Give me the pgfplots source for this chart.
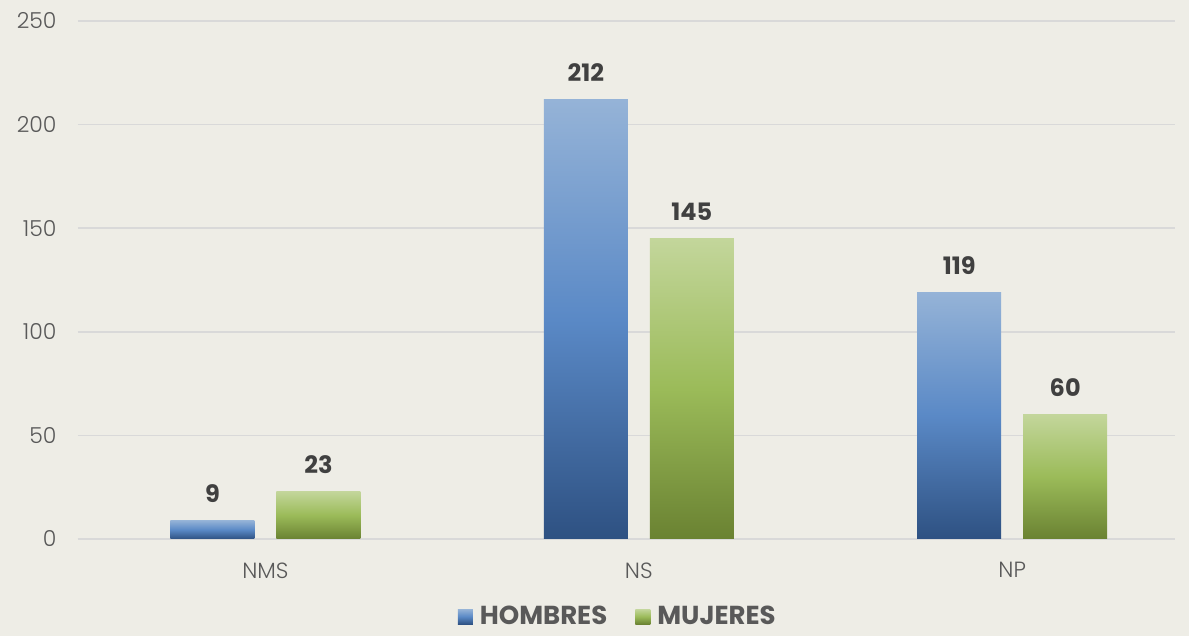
\documentclass[border=0pt]{standalone}
\usepackage{fontspec}
\setmainfont{Poppins}
\newfontfamily\lightfont{Poppins}[UprightFont=* Light]
\usepackage{pgfplots}
\pgfplotsset{compat=1.18}
\definecolor{bgc}{HTML}{EEEDE6}
\definecolor{gridc}{HTML}{D9D9D9}
\definecolor{tickc}{HTML}{595959}
\definecolor{labc}{HTML}{404040}
\definecolor{btop}{HTML}{95B3D7}
\definecolor{bmid}{HTML}{5A89C6}
\definecolor{bbot}{HTML}{2E5182}
\definecolor{gtop}{HTML}{C3D69B}
\definecolor{gmid}{HTML}{9BBB59}
\definecolor{gbot}{HTML}{6A8232}
\begin{document}
\begin{tikzpicture}
\fill[bgc] (-78pt,-97pt) rectangle (1111pt,539pt);
\begin{axis}[
  scale only axis,
  width=1097pt, height=518pt,
  xmin=-0.502, xmax=2.436,
  ymin=0, ymax=250,
  ytick={0,50,...,250},
  xtick={0,1,2},
  xticklabels={NMS,NS,NP},
  ymajorgrids,
  grid style={gridc, line width=1.5pt},
  axis line style={draw=none},
  axis x line*=bottom,
  x axis line style={draw=gridc, line width=1.5pt},
  major tick length=0pt,
  tick label style={font=\lightfont\fontsize{22}{26}\selectfont, text=tickc},
  /pgf/number format/assume math mode=true,
  yticklabel style={anchor=east, xshift=-18pt},
  xticklabel style={yshift=-20pt},
  ybar,
  bar width=84pt,
  nodes near coords,
  every node near coord/.append style={font=\bfseries\fontsize{24}{28}\selectfont, text=labc, anchor=center, yshift=27pt},
  legend style={at={(0.492,-0.149)}, anchor=center, draw=none, fill=none, legend columns=2,
    font=\bfseries\fontsize{26}{30}\selectfont, text=tickc,
    /tikz/every odd column/.append style={column sep=5pt},
    /tikz/every even column/.append style={column sep=26pt}},
  legend image code/.code={\path[#1] (0pt,-8pt) rectangle (15pt,7pt);},
  clip=false,
  hstyle/.style={draw=none, bar shift=-53pt, top color=btop, bottom color=bbot, middle color=bmid},
  mstyle/.style={draw=none, bar shift=53pt, top color=gtop, bottom color=gbot, middle color=gmid},
]
\addplot[hstyle] coordinates {(0,9)};
\addplot[mstyle] coordinates {(0,23)};
\addplot[hstyle, forget plot] coordinates {(1,212)};
\addplot[hstyle, forget plot] coordinates {(2,119)};
\addplot[mstyle, forget plot] coordinates {(1,145)};
\addplot[mstyle, forget plot] coordinates {(2,60)};
\legend{HOMBRES,MUJERES}
\end{axis}
\pgfresetboundingbox
\path (-78pt,-97pt) rectangle (1111pt,539pt);
\end{tikzpicture}
\end{document}
